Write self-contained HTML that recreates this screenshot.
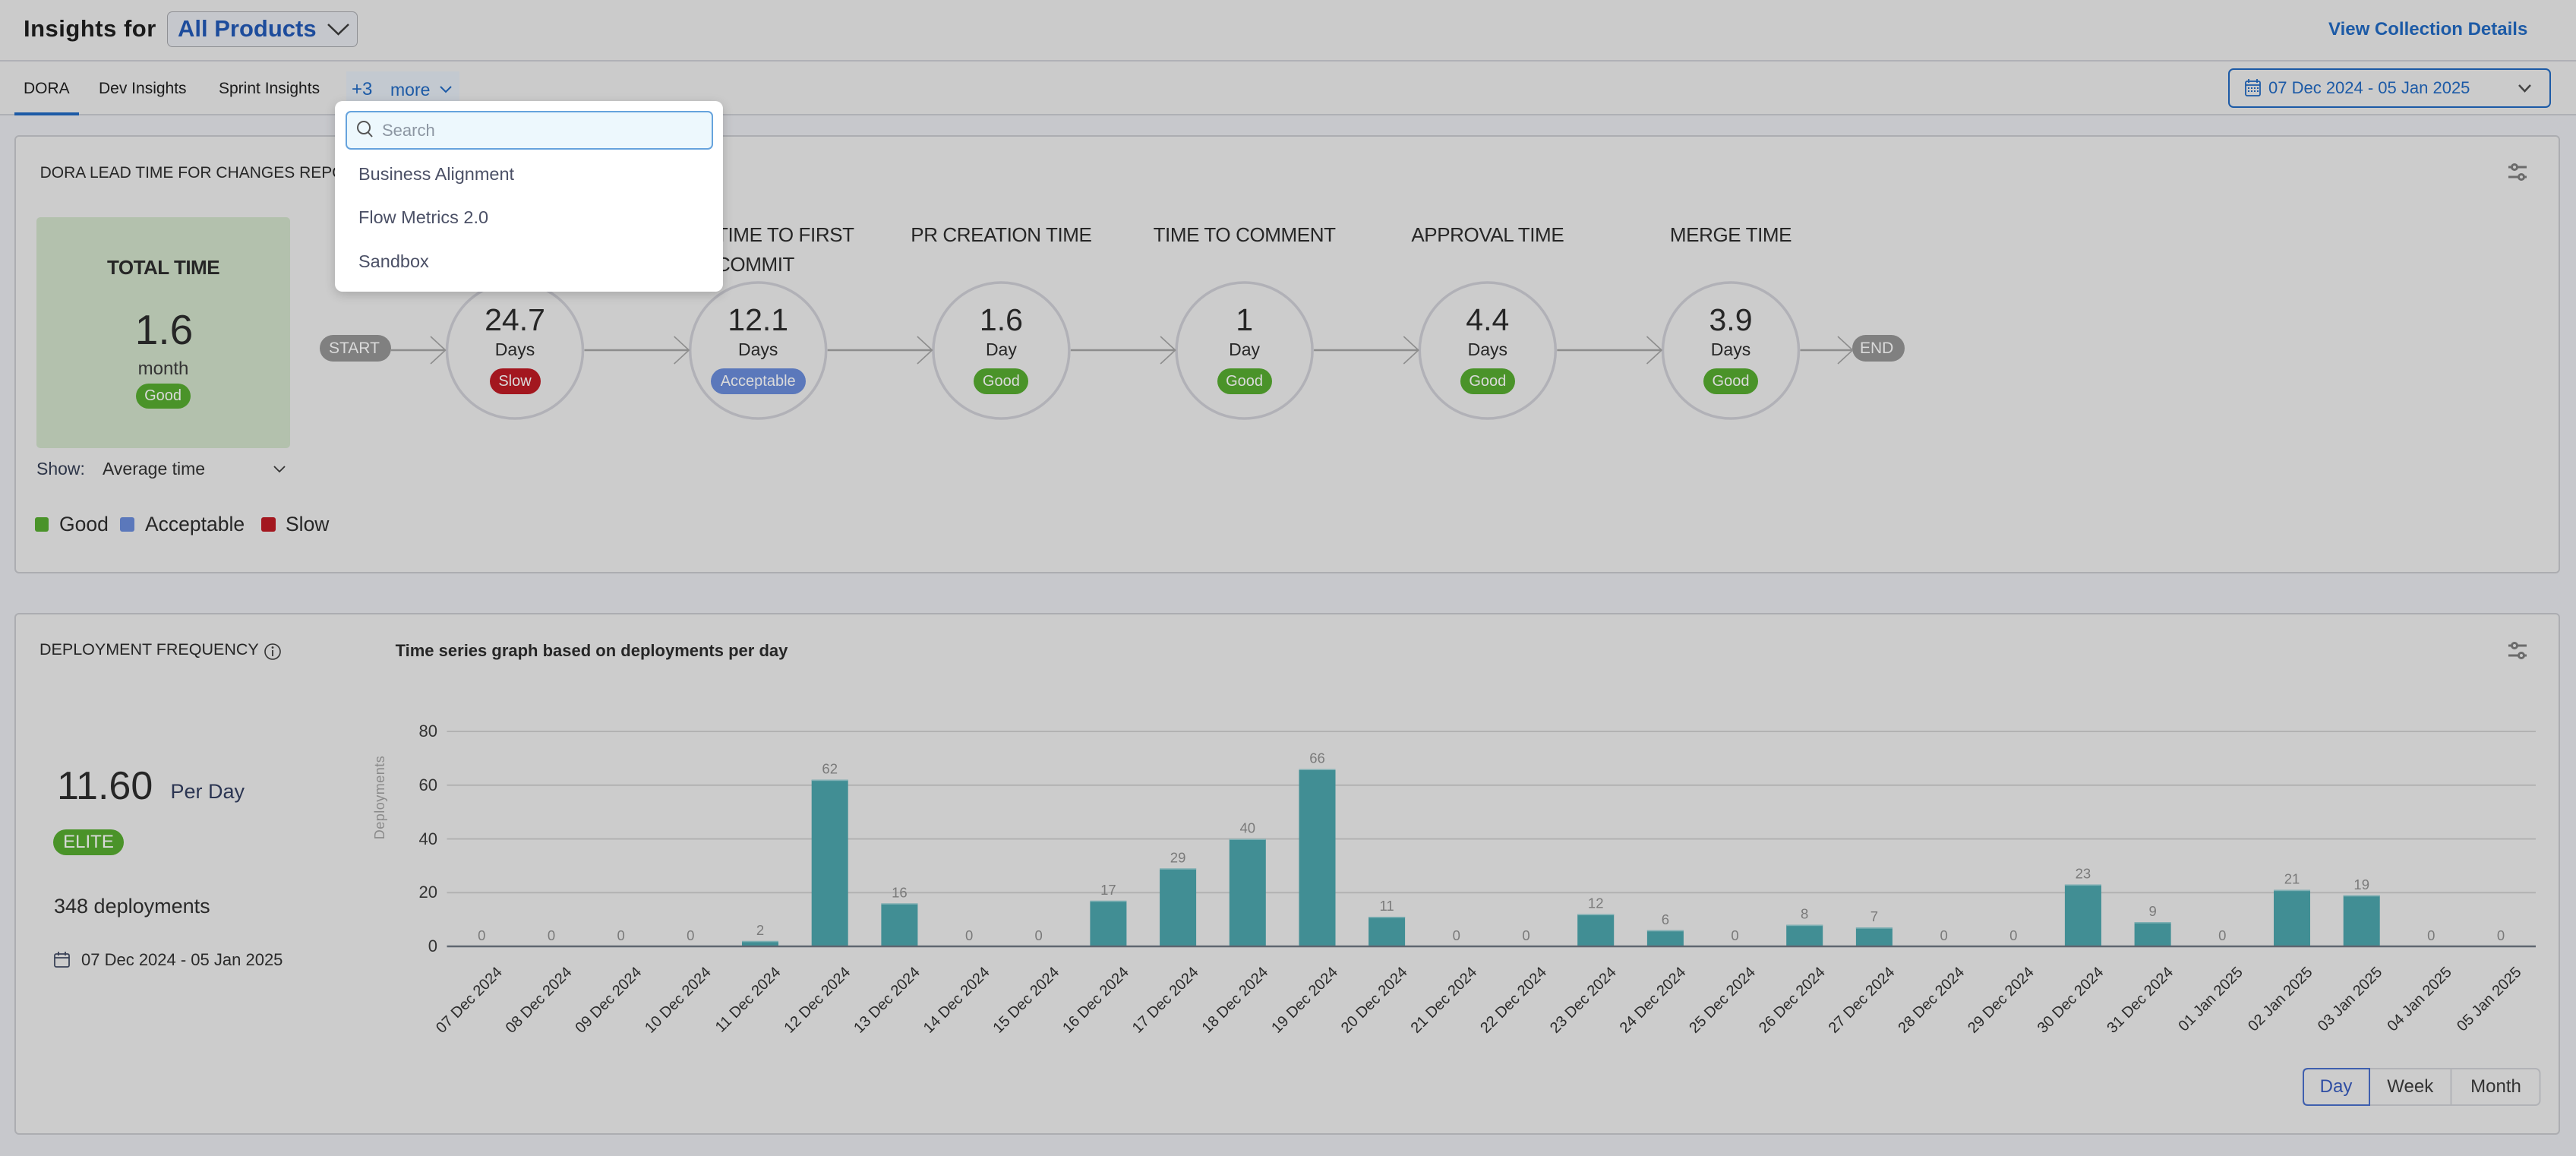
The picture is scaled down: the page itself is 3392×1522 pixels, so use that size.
<!DOCTYPE html>
<html><head><meta charset="utf-8">
<style>
*{box-sizing:border-box;margin:0;padding:0}
html,body{width:3392px;height:1522px;overflow:hidden}
body{position:relative;background:#c7c8cc;font-family:"Liberation Sans",Arial,sans-serif;color:#262626}
.a{position:absolute;white-space:nowrap;line-height:1}
.c{position:absolute;white-space:nowrap;line-height:1;text-align:center;width:400px}
.badge{position:absolute;height:34px;line-height:34px;border-radius:17px;font-size:20px;color:#dadada;text-align:center}
.g{background:#4a9329}.r{background:#a3171f}.b{background:#5b78bb}
.card{position:absolute;left:19px;width:3352px;background:#cccccc;border:2px solid #acadb1;border-radius:6px}
</style></head><body>

<!-- header -->
<div style="position:absolute;left:0;top:0;width:3392px;height:151px;background:#cbcbcb"></div>
<div style="position:absolute;left:0;top:79px;width:3392px;height:2px;background:#b0b1b6"></div>
<div style="position:absolute;left:0;top:150px;width:3392px;height:2px;background:#afb0b5"></div>

<div class="a" style="left:31px;top:22px;font-size:31px;font-weight:bold;letter-spacing:0.5px;color:#1a1a1a">Insights for</div>
<div style="position:absolute;left:220px;top:15px;width:251px;height:47px;border:1.5px solid #8f9094;border-radius:7px;background:#c5c7cc"></div>
<div class="a" style="left:234px;top:22px;font-size:31px;font-weight:bold;color:#1d4c9c">All Products</div>

<div class="a" style="left:3066px;top:26.5px;font-size:24px;font-weight:bold;color:#1c5aa6">View Collection Details</div>

<div class="a" style="left:31px;top:105.5px;font-size:21px;color:#1a1a1a">DORA</div>
<div class="a" style="left:130px;top:105.5px;font-size:21px;color:#1a1a1a">Dev Insights</div>
<div class="a" style="left:288px;top:105.5px;font-size:21px;color:#1a1a1a">Sprint Insights</div>
<div style="position:absolute;left:456px;top:94px;width:149px;height:39px;background:#c3c9d0"></div>
<div class="a" style="left:463px;top:106px;font-size:24px;color:#1c5aa6">+3</div>
<div class="a" style="left:514px;top:106.5px;font-size:23px;color:#1c5aa6">more</div>
<div style="position:absolute;left:19px;top:148px;width:85px;height:4px;background:#1c5aa6"></div>

<div style="position:absolute;left:2934px;top:90px;width:425px;height:52px;border:2px solid #1c5aa6;border-radius:7px"></div>
<div class="a" style="left:2987px;top:105px;font-size:22px;color:#1c5aa6">07 Dec 2024 - 05 Jan 2025</div>

<!-- cards -->
<div class="card" style="top:178px;height:577px"></div>
<div class="card" style="top:807px;height:687px"></div>

<svg style="position:absolute;left:0;top:0" width="3392" height="1522" xmlns="http://www.w3.org/2000/svg">
  <!-- header icons -->
  <polyline points="432,32 445.5,45 459,32" fill="none" stroke="#333" stroke-width="2.5"/>
  <polyline points="580,114 587,121 594,114" fill="none" stroke="#1c5aa6" stroke-width="2"/>
  <g fill="none" stroke="#1c5aa6" stroke-width="1.8">
    <rect x="2957" y="107" width="19" height="19" rx="2"/>
    <line x1="2957" y1="112" x2="2976" y2="112"/>
    <line x1="2961" y1="104" x2="2961" y2="109"/>
    <line x1="2972" y1="104" x2="2972" y2="109"/>
  </g>
  <g fill="#1c5aa6">
    <rect x="2960" y="115" width="2" height="2"/><rect x="2964" y="115" width="2" height="2"/><rect x="2968" y="115" width="2" height="2"/><rect x="2972" y="115" width="2" height="2"/>
    <rect x="2960" y="119" width="2" height="2"/><rect x="2964" y="119" width="2" height="2"/><rect x="2968" y="119" width="2" height="2"/><rect x="2972" y="119" width="2" height="2"/>
  </g>
  <polyline points="3317,112 3324.5,120 3332,112" fill="none" stroke="#444" stroke-width="2.5"/>

  <!-- filter icons -->
  <g stroke="#6b6b6b" stroke-width="3" fill="#cccccc">
    <line x1="3303" y1="220" x2="3327" y2="220"/><line x1="3303" y1="233" x2="3327" y2="233"/>
    <circle cx="3311" cy="220" r="3.5"/><circle cx="3320" cy="233" r="3.5"/>
    <line x1="3303" y1="850" x2="3327" y2="850"/><line x1="3303" y1="863" x2="3327" y2="863"/>
    <circle cx="3311" cy="850" r="3.5"/><circle cx="3320" cy="863" r="3.5"/>
  </g>

  <!-- DORA flow -->
  <rect x="48" y="286" width="334" height="304" rx="5" fill="#b3c1ad"/>
  <rect x="421" y="441" width="94" height="35" rx="17.5" fill="#808080"/>
  <rect x="2439" y="441" width="69" height="35" rx="17.5" fill="#808080"/>
  <g fill="none" stroke="#b1b1b7" stroke-width="3.5">
    <circle cx="678" cy="461.5" r="89.5"/>
    <circle cx="998.2" cy="461.5" r="89.5"/>
    <circle cx="1318.4" cy="461.5" r="89.5"/>
    <circle cx="1638.6" cy="461.5" r="89.5"/>
    <circle cx="1958.8" cy="461.5" r="89.5"/>
    <circle cx="2279" cy="461.5" r="89.5"/>
  </g>
  <g fill="none" stroke="#8d8d8d" stroke-width="2.5">
    <line x1="515" y1="461" x2="586" y2="461"/>
    <line x1="769.5" y1="461" x2="906.7" y2="461"/>
    <line x1="1089.7" y1="461" x2="1226.9" y2="461"/>
    <line x1="1409.9" y1="461" x2="1547.1" y2="461"/>
    <line x1="1730.1" y1="461" x2="1867.3" y2="461"/>
    <line x1="2050.3" y1="461" x2="2187.5" y2="461"/>
    <line x1="2370.5" y1="461" x2="2439" y2="461"/>
  </g>
  <g fill="none" stroke="#8d8d8d" stroke-width="1.6">
    <polyline points="567,443 586.5,461 567,479"/>
    <polyline points="887.7,443 907.2,461 887.7,479"/>
    <polyline points="1207.9,443 1227.4,461 1207.9,479"/>
    <polyline points="1528.1,443 1547.6,461 1528.1,479"/>
    <polyline points="1848.3,443 1867.8,461 1848.3,479"/>
    <polyline points="2168.5,443 2188,461 2168.5,479"/>
    <polyline points="2420,443 2439.5,461 2420,479"/>
  </g>
  <polyline points="361,614 368,621 375,614" fill="none" stroke="#333" stroke-width="1.8"/>
  <rect x="46" y="681" width="18" height="19" rx="3" fill="#4a9329"/>
  <rect x="158" y="681" width="19" height="19" rx="3" fill="#5b78bb"/>
  <rect x="344" y="681" width="19" height="19" rx="3" fill="#a3171f"/>

  <!-- deployment card icons -->
  <circle cx="359" cy="858" r="10" fill="none" stroke="#333" stroke-width="1.6"/>
  <circle cx="359" cy="852.5" r="1.4" fill="#333"/>
  <line x1="359" y1="856" x2="359" y2="864" stroke="#333" stroke-width="1.8"/>
  <g fill="none" stroke="#3a4257" stroke-width="1.8">
    <rect x="72" y="1256" width="19" height="17" rx="2"/>
    <line x1="72" y1="1261" x2="91" y2="1261"/>
    <line x1="77" y1="1253" x2="77" y2="1258"/>
    <line x1="86" y1="1253" x2="86" y2="1258"/>
  </g>
  <rect x="70" y="1092" width="93" height="34" rx="17" fill="#4a9329"/>

  <!-- chart grid -->
  <g stroke="#b2b2b2" stroke-width="2">
    <line x1="588.5" y1="963" x2="3339" y2="963"/>
    <line x1="588.5" y1="1033.75" x2="3339" y2="1033.75"/>
    <line x1="588.5" y1="1104.5" x2="3339" y2="1104.5"/>
    <line x1="588.5" y1="1175.25" x2="3339" y2="1175.25"/>
  </g>
  <!-- bars -->
  <g fill="#418e94">
    <rect x="977.0" y="1238.9" width="48" height="7.1"/>
    <rect x="1068.7" y="1026.7" width="48" height="219.3"/>
    <rect x="1160.4" y="1189.4" width="48" height="56.6"/>
    <rect x="1435.4" y="1185.9" width="48" height="60.1"/>
    <rect x="1527.1" y="1143.4" width="48" height="102.6"/>
    <rect x="1618.8" y="1104.5" width="48" height="141.5"/>
    <rect x="1710.5" y="1012.5" width="48" height="233.5"/>
    <rect x="1802.1" y="1207.1" width="48" height="38.9"/>
    <rect x="2077.2" y="1203.55" width="48" height="42.45"/>
    <rect x="2168.9" y="1224.8" width="48" height="21.2"/>
    <rect x="2352.2" y="1217.7" width="48" height="28.3"/>
    <rect x="2443.9" y="1221.2" width="48" height="24.8"/>
    <rect x="2718.9" y="1164.6" width="48" height="81.4"/>
    <rect x="2810.6" y="1214.2" width="48" height="31.8"/>
    <rect x="2994.0" y="1171.7" width="48" height="74.3"/>
    <rect x="3085.7" y="1178.8" width="48" height="67.2"/>
  </g>
  <g fill="#7fb0b4">
    <rect x="977.0" y="1238.9" width="48" height="1.5"/>
    <rect x="1068.7" y="1026.7" width="48" height="1.5"/>
    <rect x="1160.4" y="1189.4" width="48" height="1.5"/>
    <rect x="1435.4" y="1185.9" width="48" height="1.5"/>
    <rect x="1527.1" y="1143.4" width="48" height="1.5"/>
    <rect x="1618.8" y="1104.5" width="48" height="1.5"/>
    <rect x="1710.5" y="1012.5" width="48" height="1.5"/>
    <rect x="1802.1" y="1207.1" width="48" height="1.5"/>
    <rect x="2077.2" y="1203.55" width="48" height="1.5"/>
    <rect x="2168.9" y="1224.8" width="48" height="1.5"/>
    <rect x="2352.2" y="1217.7" width="48" height="1.5"/>
    <rect x="2443.9" y="1221.2" width="48" height="1.5"/>
    <rect x="2718.9" y="1164.6" width="48" height="1.5"/>
    <rect x="2810.6" y="1214.2" width="48" height="1.5"/>
    <rect x="2994.0" y="1171.7" width="48" height="1.5"/>
    <rect x="3085.7" y="1178.8" width="48" height="1.5"/>
  </g>
  <line x1="588.5" y1="1246" x2="3339" y2="1246" stroke="#5f6670" stroke-width="2.5"/>

  <!-- value labels -->
  <g font-family="Liberation Sans, Arial, sans-serif" font-size="18.5" fill="#7a7a7a" text-anchor="middle">
    <text x="634.3" y="1238">0</text>
    <text x="726.0" y="1238">0</text>
    <text x="817.7" y="1238">0</text>
    <text x="909.3" y="1238">0</text>
    <text x="1001.0" y="1231">2</text>
    <text x="1092.7" y="1018.7">62</text>
    <text x="1184.4" y="1181.4">16</text>
    <text x="1276.1" y="1238">0</text>
    <text x="1367.7" y="1238">0</text>
    <text x="1459.4" y="1177.9">17</text>
    <text x="1551.1" y="1135.4">29</text>
    <text x="1642.8" y="1096.5">40</text>
    <text x="1734.5" y="1004.5">66</text>
    <text x="1826.1" y="1199.1">11</text>
    <text x="1917.8" y="1238">0</text>
    <text x="2009.5" y="1238">0</text>
    <text x="2101.2" y="1195.5">12</text>
    <text x="2192.9" y="1216.8">6</text>
    <text x="2284.5" y="1238">0</text>
    <text x="2376.2" y="1209.7">8</text>
    <text x="2467.9" y="1213.2">7</text>
    <text x="2559.6" y="1238">0</text>
    <text x="2651.3" y="1238">0</text>
    <text x="2742.9" y="1156.6">23</text>
    <text x="2834.6" y="1206.2">9</text>
    <text x="2926.3" y="1238">0</text>
    <text x="3018.0" y="1163.7">21</text>
    <text x="3109.7" y="1170.8">19</text>
    <text x="3201.3" y="1238">0</text>
    <text x="3293.0" y="1238">0</text>
  </g>

  <!-- x labels -->
  <g font-family="Liberation Sans, Arial, sans-serif" font-size="20" fill="#2a2a2a" text-anchor="end">
    <text x="662.3" y="1281" transform="rotate(-45 662.3 1281)">07 Dec 2024</text>
    <text x="754.0" y="1281" transform="rotate(-45 754.0 1281)">08 Dec 2024</text>
    <text x="845.7" y="1281" transform="rotate(-45 845.7 1281)">09 Dec 2024</text>
    <text x="937.3" y="1281" transform="rotate(-45 937.3 1281)">10 Dec 2024</text>
    <text x="1029.0" y="1281" transform="rotate(-45 1029.0 1281)">11 Dec 2024</text>
    <text x="1120.7" y="1281" transform="rotate(-45 1120.7 1281)">12 Dec 2024</text>
    <text x="1212.4" y="1281" transform="rotate(-45 1212.4 1281)">13 Dec 2024</text>
    <text x="1304.1" y="1281" transform="rotate(-45 1304.1 1281)">14 Dec 2024</text>
    <text x="1395.7" y="1281" transform="rotate(-45 1395.7 1281)">15 Dec 2024</text>
    <text x="1487.4" y="1281" transform="rotate(-45 1487.4 1281)">16 Dec 2024</text>
    <text x="1579.1" y="1281" transform="rotate(-45 1579.1 1281)">17 Dec 2024</text>
    <text x="1670.8" y="1281" transform="rotate(-45 1670.8 1281)">18 Dec 2024</text>
    <text x="1762.5" y="1281" transform="rotate(-45 1762.5 1281)">19 Dec 2024</text>
    <text x="1854.1" y="1281" transform="rotate(-45 1854.1 1281)">20 Dec 2024</text>
    <text x="1945.8" y="1281" transform="rotate(-45 1945.8 1281)">21 Dec 2024</text>
    <text x="2037.5" y="1281" transform="rotate(-45 2037.5 1281)">22 Dec 2024</text>
    <text x="2129.2" y="1281" transform="rotate(-45 2129.2 1281)">23 Dec 2024</text>
    <text x="2220.9" y="1281" transform="rotate(-45 2220.9 1281)">24 Dec 2024</text>
    <text x="2312.5" y="1281" transform="rotate(-45 2312.5 1281)">25 Dec 2024</text>
    <text x="2404.2" y="1281" transform="rotate(-45 2404.2 1281)">26 Dec 2024</text>
    <text x="2495.9" y="1281" transform="rotate(-45 2495.9 1281)">27 Dec 2024</text>
    <text x="2587.6" y="1281" transform="rotate(-45 2587.6 1281)">28 Dec 2024</text>
    <text x="2679.3" y="1281" transform="rotate(-45 2679.3 1281)">29 Dec 2024</text>
    <text x="2770.9" y="1281" transform="rotate(-45 2770.9 1281)">30 Dec 2024</text>
    <text x="2862.6" y="1281" transform="rotate(-45 2862.6 1281)">31 Dec 2024</text>
    <text x="2954.3" y="1281" transform="rotate(-45 2954.3 1281)">01 Jan 2025</text>
    <text x="3046.0" y="1281" transform="rotate(-45 3046.0 1281)">02 Jan 2025</text>
    <text x="3137.7" y="1281" transform="rotate(-45 3137.7 1281)">03 Jan 2025</text>
    <text x="3229.3" y="1281" transform="rotate(-45 3229.3 1281)">04 Jan 2025</text>
    <text x="3321.0" y="1281" transform="rotate(-45 3321.0 1281)">05 Jan 2025</text>
  </g>

  <!-- Day/Week/Month -->
  <rect x="3033" y="1407" width="311.5" height="48" rx="6" fill="none" stroke="#b2b3b7" stroke-width="2"/>
  <line x1="3227.5" y1="1407" x2="3227.5" y2="1455" stroke="#b2b3b7" stroke-width="2"/>
  <path d="M3120 1407 H3039 Q3033 1407 3033 1413 V1449 Q3033 1455 3039 1455 H3120 Z" fill="none" stroke="#3f5fae" stroke-width="2"/>
</svg>

<!-- DORA card text -->
<div class="a" style="left:52.6px;top:216.5px;font-size:21px;color:#262626">DORA LEAD TIME FOR CHANGES REPORT</div>
<div class="c" style="left:15px;top:339px;font-size:26px;font-weight:bold;letter-spacing:-0.5px">TOTAL TIME</div>
<div class="c" style="left:16px;top:407px;font-size:55px">1.6</div>
<div class="c" style="left:15px;top:474px;font-size:24px;color:#333">month</div>
<div class="badge g" style="left:178.6px;top:505px;width:72px;height:33px;line-height:33px">Good</div>

<div class="a" style="left:433px;top:448px;font-size:21px;color:#dadada">START</div>
<div class="a" style="left:2449px;top:448px;font-size:21px;color:#dadada">END</div>

<div class="a" style="left:943px;top:296px;font-size:26px;letter-spacing:-0.4px">TIME TO FIRST</div>
<div class="a" style="left:943px;top:335px;font-size:26px;letter-spacing:-0.4px">COMMIT</div>
<div class="c" style="left:1118.4px;top:296px;font-size:26px;letter-spacing:-0.4px">PR CREATION TIME</div>
<div class="c" style="left:1438.6px;top:296px;font-size:26px;letter-spacing:-0.4px">TIME TO COMMENT</div>
<div class="c" style="left:1758.8px;top:296px;font-size:26px;letter-spacing:-0.4px">APPROVAL TIME</div>
<div class="c" style="left:2079px;top:296px;font-size:26px;letter-spacing:-0.4px">MERGE TIME</div>

<div class="c" style="left:478px;top:401px;font-size:41px">24.7</div>
<div class="c" style="left:478px;top:449px;font-size:23px">Days</div>
<div class="badge r" style="left:644.5px;top:485px;width:67px">Slow</div>

<div class="c" style="left:798.2px;top:401px;font-size:41px">12.1</div>
<div class="c" style="left:798.2px;top:449px;font-size:23px">Days</div>
<div class="badge b" style="left:935.7px;top:485px;width:125px">Acceptable</div>

<div class="c" style="left:1118.4px;top:401px;font-size:41px">1.6</div>
<div class="c" style="left:1118.4px;top:449px;font-size:23px">Day</div>
<div class="badge g" style="left:1282.4px;top:485px;width:72px">Good</div>

<div class="c" style="left:1438.6px;top:401px;font-size:41px">1</div>
<div class="c" style="left:1438.6px;top:449px;font-size:23px">Day</div>
<div class="badge g" style="left:1602.6px;top:485px;width:72px">Good</div>

<div class="c" style="left:1758.8px;top:401px;font-size:41px">4.4</div>
<div class="c" style="left:1758.8px;top:449px;font-size:23px">Days</div>
<div class="badge g" style="left:1922.8px;top:485px;width:72px">Good</div>

<div class="c" style="left:2079px;top:401px;font-size:41px">3.9</div>
<div class="c" style="left:2079px;top:449px;font-size:23px">Days</div>
<div class="badge g" style="left:2243px;top:485px;width:72px">Good</div>

<div class="a" style="left:48px;top:605.5px;font-size:23px;color:#2d3548">Show:</div>
<div class="a" style="left:135px;top:605.5px;font-size:23px;color:#2a2a2a">Average time</div>

<div class="a" style="left:78px;top:677px;font-size:26.5px">Good</div>
<div class="a" style="left:191px;top:677px;font-size:26.5px">Acceptable</div>
<div class="a" style="left:376px;top:677px;font-size:26.5px">Slow</div>

<!-- Deployment card text -->
<div class="a" style="left:52px;top:845px;font-size:21.5px">DEPLOYMENT FREQUENCY</div>
<div class="a" style="left:520.6px;top:846px;font-size:22px;font-weight:bold">Time series graph based on deployments per day</div>
<div class="a" style="left:75px;top:1009px;font-size:52px">11.60</div>
<div class="a" style="left:224.5px;top:1029px;font-size:27px;color:#2b3552">Per Day</div>
<div class="a" style="left:70px;top:1097px;width:93px;text-align:center;font-size:24px;color:#dadada">ELITE</div>
<div class="a" style="left:71px;top:1180px;font-size:27px;color:#2a2a2a">348 deployments</div>
<div class="a" style="left:107px;top:1253px;font-size:22px;color:#2a2a2a">07 Dec 2024 - 05 Jan 2025</div>

<div class="a" style="left:516px;top:952px;width:60px;text-align:right;font-size:22px;color:#333">80</div>
<div class="a" style="left:516px;top:1023px;width:60px;text-align:right;font-size:22px;color:#333">60</div>
<div class="a" style="left:516px;top:1093.5px;width:60px;text-align:right;font-size:22px;color:#333">40</div>
<div class="a" style="left:516px;top:1164px;width:60px;text-align:right;font-size:22px;color:#333">20</div>
<div class="a" style="left:516px;top:1235px;width:60px;text-align:right;font-size:22px;color:#333">0</div>
<div class="a" style="left:400px;top:1041px;width:200px;text-align:center;font-size:18px;color:#8a8a8a;letter-spacing:0.5px;transform:rotate(-90deg)">Deployments</div>

<div class="a" style="left:3032px;top:1419px;width:88px;text-align:center;font-size:24px;color:#2f4ea3">Day</div>
<div class="a" style="left:3120px;top:1419px;width:107.5px;text-align:center;font-size:24px;color:#333">Week</div>
<div class="a" style="left:3227.5px;top:1419px;width:118px;text-align:center;font-size:24px;color:#333">Month</div>

<!-- dropdown -->
<div style="position:absolute;left:441px;top:133px;width:511px;height:251px;background:#ffffff;border-radius:10px;box-shadow:0 4px 14px rgba(0,0,0,0.18);z-index:10">
  <div style="position:absolute;left:14px;top:13px;width:484px;height:51px;background:#edf8fd;border:2px solid #66a3dd;border-radius:7px"></div>
  <svg style="position:absolute;left:26px;top:24px" width="26" height="28" xmlns="http://www.w3.org/2000/svg">
    <circle cx="12" cy="11" r="8" fill="none" stroke="#555" stroke-width="2"/>
    <line x1="17.5" y1="17" x2="23" y2="23" stroke="#555" stroke-width="2"/>
  </svg>
  <div class="a" style="left:62px;top:28px;font-size:22px;color:#8c96a2">Search</div>
  <div class="a" style="left:31px;top:84.5px;font-size:23.5px;color:#4b5066">Business Alignment</div>
  <div class="a" style="left:31px;top:141.5px;font-size:23.5px;color:#4b5066">Flow Metrics 2.0</div>
  <div class="a" style="left:31px;top:199.5px;font-size:23.5px;color:#4b5066">Sandbox</div>
</div>

</body></html>
